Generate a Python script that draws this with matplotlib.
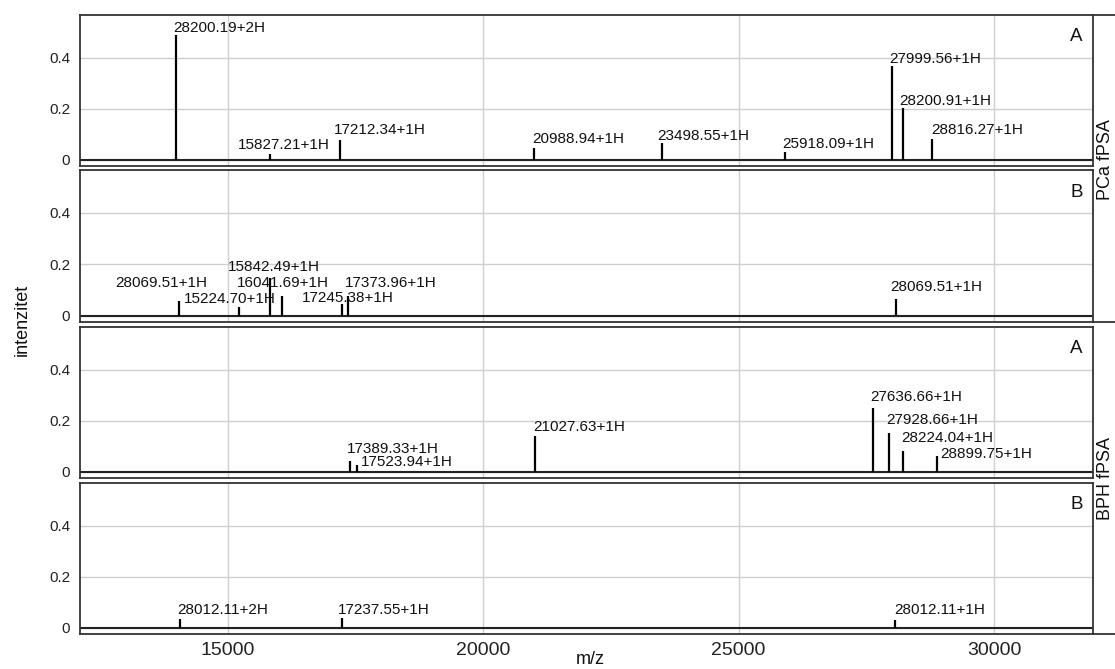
import matplotlib
matplotlib.use("Agg")
import matplotlib.pyplot as plt
from matplotlib.lines import Line2D

plt.rcParams['font.family'] = ['Liberation Sans', 'DejaVu Sans']

# peaks per panel: m/z position, intensity, label, label position (x, y)
pca_a_mz = [13982, 15822, 17192, 20988, 23493, 25900, 27994, 28209, 28796]
pca_a_int = [0.489, 0.024, 0.075, 0.047, 0.067, 0.028, 0.369, 0.204, 0.082]
pca_a_lbl = ["28200.19+2H", "15827.21+1H", "17212.34+1H", "20988.94+1H", "23498.55+1H",
             "25918.09+1H", "27999.56+1H", "28200.91+1H", "28816.27+1H"]
pca_a_lx = [13924, 15196, 17074, 20950, 23415, 25860, 27955, 28150, 28777]
pca_a_ly = [0.516, 0.056, 0.118, 0.081, 0.094, 0.061, 0.395, 0.229, 0.118]

pca_b_mz = [14041, 15215, 15822, 16057, 17231, 17348, 28072]
pca_b_int = [0.058, 0.035, 0.148, 0.078, 0.047, 0.078, 0.066]
pca_b_lbl = ["28069.51+1H", "15224.70+1H", "15842.49+1H", "16041.69+1H", "17245.38+1H",
             "17373.96+1H", "28069.51+1H"]
pca_b_lx = [12789, 14139, 15000, 15176, 16448, 17290, 27970]
pca_b_ly = [0.125, 0.066, 0.191, 0.125, 0.070, 0.125, 0.113]

bph_a_mz = [17380, 17530, 21011, 27622, 27935, 28209, 28894]
bph_a_int = [0.043, 0.027, 0.139, 0.250, 0.152, 0.080, 0.063]
bph_a_lbl = ["17389.33+1H", "17523.94+1H", "21027.63+1H", "27636.66+1H", "27928.66+1H",
             "28224.04+1H", "28899.75+1H"]
bph_a_lx = [17330, 17600, 20980, 27585, 27900, 28180, 28950]
bph_a_ly = [0.088, 0.036, 0.174, 0.292, 0.203, 0.131, 0.069]

bph_b_mz = [14049, 17231, 28066]
bph_b_int = [0.032, 0.036, 0.029]
bph_b_lbl = ["28012.11+2H", "17237.55+1H", "28012.11+1H"]
bph_b_lx = [14010, 17160, 28040]
bph_b_ly = [0.068, 0.068, 0.068]

panels = [
    ("A", pca_a_mz, pca_a_int, pca_a_lbl, pca_a_lx, pca_a_ly),
    ("B", pca_b_mz, pca_b_int, pca_b_lbl, pca_b_lx, pca_b_ly),
    ("A", bph_a_mz, bph_a_int, bph_a_lbl, bph_a_lx, bph_a_ly),
    ("B", bph_b_mz, bph_b_int, bph_b_lbl, bph_b_lx, bph_b_ly),
]
groups = ["PCa fPSA", "BPH fPSA"]

W, H = 1115, 669
fig = plt.figure(figsize=(W / 100, H / 100), dpi=100)

left, right = 80, 1093
tops = [(15, 166), (170, 322), (327, 478), (483, 634)]

for i, (letter, mz, inten, lbl, lx, ly) in enumerate(panels):
    yt, yb = tops[i]
    ax = fig.add_axes([left / W, 1 - yb / H, (right - left) / W, (yb - yt) / H])
    ax.set_xlim(12100, 31940)
    ax.set_ylim(-0.025, 0.567)
    ax.set_xticks([15000, 20000, 25000, 30000])
    ax.set_yticks([0, 0.2, 0.4])
    ax.set_yticklabels(["0", "0.2", "0.4"], fontsize=11, color="#222222")
    ax.grid(True, color="#cfcfcf", lw=1)
    ax.set_axisbelow(True)
    ax.tick_params(length=0, pad=7)
    for s in ax.spines.values():
        s.set_color("#333333")
        s.set_linewidth(1.3)
    ax.axhline(0, color="#222222", lw=1.5)
    ax.vlines(mz, 0, inten, color="black", lw=1.6)
    for t, x, y in zip(lbl, lx, ly):
        ax.text(x, y, t, fontsize=11, ha="left", va="center", color="#111111")
    ax.text(0.99, 0.855, letter, transform=ax.transAxes, ha="right", va="center",
            fontsize=13.5, color="#111111")
    if i < 3:
        ax.set_xticklabels([])
    else:
        ax.set_xticklabels(["15000", "20000", "25000", "30000"], fontsize=14, color="#222222")
        ax.tick_params(axis="x", pad=6)

# strip lines on the right
for yp in [15, 322, 634]:
    fig.add_artist(Line2D([right / W, 1], [1 - yp / H, 1 - yp / H],
                          transform=fig.transFigure, color="#333333", lw=1.3))

fig.text(1105 / W, 1 - 160 / H, groups[0], rotation=90, ha="center", va="center",
         fontsize=13, color="#111111")
fig.text(1105 / W, 1 - 478 / H, groups[1], rotation=90, ha="center", va="center",
         fontsize=13, color="#111111")

fig.text(22 / W, 1 - 320 / H, "intenzitet", rotation=90, ha="center", va="center",
         fontsize=13, color="#111111")
fig.text(590 / W, 1 - 659 / H, "m/z", ha="center", va="center", fontsize=13, color="#111111")

fig.savefig("out.png", dpi=100)
